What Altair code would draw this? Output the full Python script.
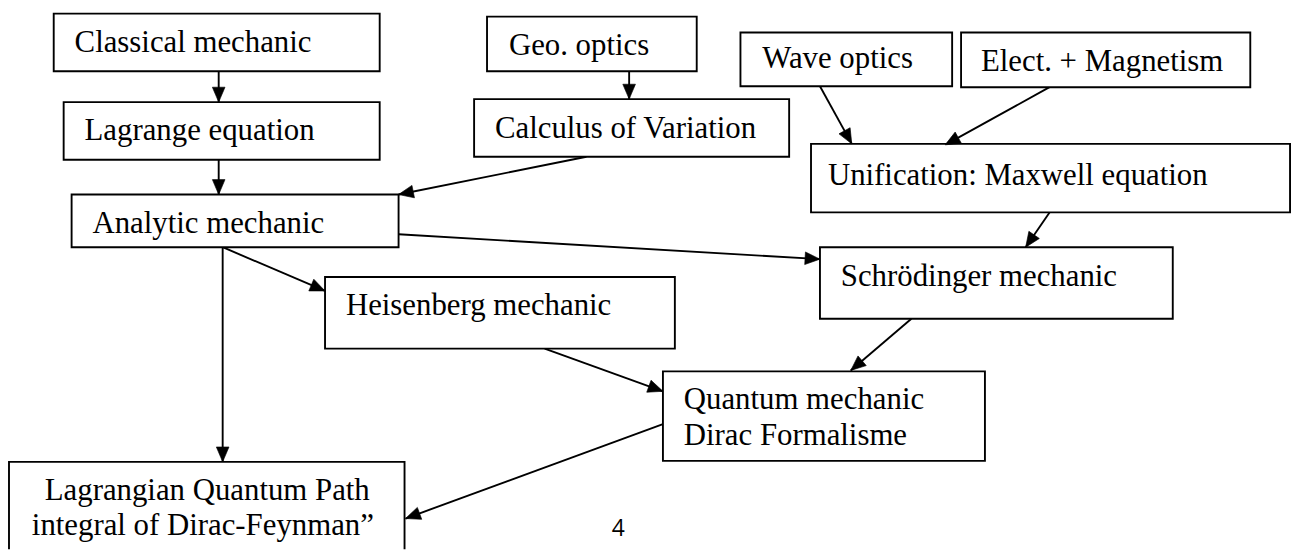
import math
import altair as alt
import pandas as pd

# ---- boxes (left, right, top, bottom in picture pixels) ----
box_names = ["Classical", "Lagrange", "Analytic", "GeoOptics", "Calculus", "WaveOptics",
             "Elect", "Unification", "Schrodinger", "Heisenberg", "Quantum", "PathIntegral"]
box_x0 = [54, 64, 72, 490, 477, 745, 967, 816, 825, 327, 667, 9]
box_x1 = [382, 382, 401, 701, 794, 958, 1258, 1298, 1180, 679, 991, 407]
box_y0 = [12, 101, 194, 15, 98, 31, 31, 143, 247, 277, 372, 463]
box_y1 = [70, 159, 247, 70, 156, 85, 86, 212, 319, 349, 462, 580]

# ---- text lines (left x, baseline y) ----
text_lines = ["Classical mechanic", "Lagrange equation", "Analytic mechanic", "Geo. optics",
              "Calculus of Variation", "Wave optics", "Elect. + Magnetism",
              "Unification: Maxwell equation", "Schrödinger mechanic", "Heisenberg mechanic",
              "Quantum mechanic", "Dirac Formalisme", "Lagrangian Quantum Path",
              "integral of Dirac-Feynman\u201d"]
text_x = [75, 85, 93, 512, 498, 767, 987, 833, 846, 348, 688, 688, 45, 32]
text_y = [51, 139, 233, 54, 137, 67, 70, 184, 286, 315, 410, 446, 501, 537]

# ---- arrows (from -> tip) ----
arrow_x0 = [220, 220, 633, 590, 825, 1056, 1056, 401, 224, 224, 548, 917, 667]
arrow_y0 = [70, 159, 70, 156, 85, 86, 212, 234, 247, 247, 349, 319, 425]
arrow_x1 = [220, 220, 633, 401, 857, 951, 1032, 825, 327, 224, 667, 856, 408]
arrow_y1 = [101, 194, 98, 194, 143, 144, 247, 259, 291, 463, 392, 371, 520]

# page number
page_label = ["4"]
page_x = [622]
page_y = [538]

boxes = pd.DataFrame({"name": box_names, "x0": box_x0, "x1": box_x1, "y0": box_y0, "y1": box_y1})
texts = pd.DataFrame({"t": text_lines, "x": text_x, "y": text_y})
arrows = pd.DataFrame({"x0": arrow_x0, "y0": arrow_y0, "x1": arrow_x1, "y1": arrow_y1})
arrows["ang"] = [
    (math.degrees(math.atan2(x1 - x0, -(y1 - y0))) + 360) % 360
    for x0, y0, x1, y1 in zip(arrow_x0, arrow_y0, arrow_x1, arrow_y1)
]
page = pd.DataFrame({"t": page_label, "x": page_x, "y": page_y})

W, H = 1296, 543
xs = alt.Scale(domain=[8, 1304], nice=False, zero=False)
ys = alt.Scale(domain=[8, 551], reverse=True, nice=False, zero=False)

lines = alt.Chart(arrows).mark_rule(color="black", strokeWidth=1.9).encode(
    x=alt.X("x0:Q", scale=xs, axis=None),
    y=alt.Y("y0:Q", scale=ys, axis=None),
    x2="x1:Q",
    y2="y1:Q",
)

rects = alt.Chart(boxes).mark_rect(fill="white", stroke="black", strokeWidth=1.9, clip=True).encode(
    x=alt.X("x0:Q", scale=xs, axis=None),
    x2="x1:Q",
    y=alt.Y("y0:Q", scale=ys, axis=None),
    y2="y1:Q",
)

heads = alt.Chart(arrows).mark_point(
    shape="M0,0L0.85,2L-0.85,2Z", filled=True, fill="black", stroke="black",
    strokeWidth=0.6, opacity=1, size=225,
).encode(
    x=alt.X("x1:Q", scale=xs, axis=None),
    y=alt.Y("y1:Q", scale=ys, axis=None),
    angle=alt.Angle("ang:Q", scale=None),
)

labels = alt.Chart(texts).mark_text(
    font="Liberation Serif", fontSize=31, align="left", baseline="alphabetic", color="black"
).encode(
    x=alt.X("x:Q", scale=xs, axis=None),
    y=alt.Y("y:Q", scale=ys, axis=None),
    text="t:N",
)

pnum = alt.Chart(page).mark_text(
    font="Open Sans", fontSize=23, align="center", baseline="alphabetic", color="black"
).encode(
    x=alt.X("x:Q", scale=xs, axis=None),
    y=alt.Y("y:Q", scale=ys, axis=None),
    text="t:N",
)

chart = alt.layer(lines, rects, heads, labels, pnum).properties(
    width=W, height=H, padding=0, autosize=alt.AutoSizeParams(type="none")
).configure_view(stroke=None)

chart.save("out.html", embed_options={"renderer": "svg", "actions": False})
